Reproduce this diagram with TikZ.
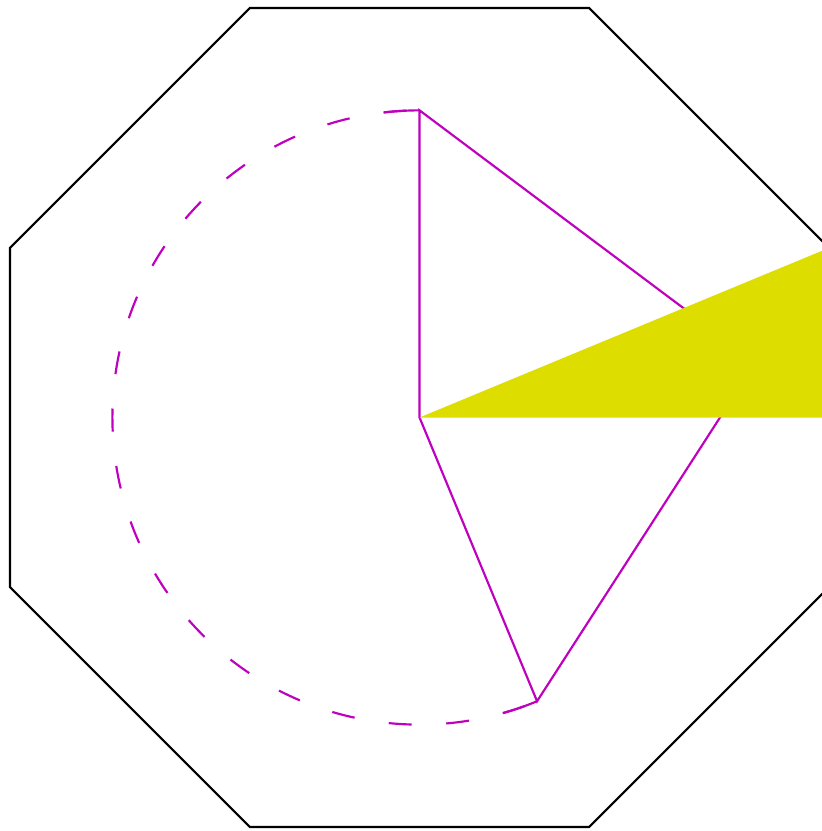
\documentclass[tikz,border=0pt]{standalone}
\definecolor{arcMagenta}{RGB}{191, 0, 191}
\definecolor{wedgeYellow}{RGB}{221, 221, 0}
\usepackage{tikz}
\usetikzlibrary{calc}

\begin{document}
\begin{tikzpicture}[
      outline/.style={draw=black, line width=0.6pt},
      chord/.style={draw=arcMagenta, line width=0.6pt},
      rim/.style={chord, dash pattern=on 6.4pt off 9.6pt, dash phase=12.4pt},
      wedge/.style={fill=wedgeYellow},
    ]
      \useasboundingbox (-4.098,-4.039) rectangle (3.931,4.078);
      \clip (-4.098,-4.039) rectangle (3.931,4.078);

      \coordinate (O) at (0,0);
      \coordinate (A) at (90:3);
      \coordinate (B) at (-67.5:3);
      \coordinate (P) at (3.283,0.540);
      \coordinate (V) at (22.5:4.3296);
      \coordinate (M) at (0:4);

      % octagon
      \draw[outline] (22.5:4.3296)
        \foreach \a in {67.5,112.5,...,337.5} { -- (\a:4.3296) } -- cycle;

      % circle part, longer dashes at both ends
      \draw[rim] (A) arc[start angle=90, end angle=292.5, radius=3];
      \draw[chord] (A) arc[start angle=90, end angle=96.7, radius=3];
      \draw[chord] (B) arc[start angle=292.5, end angle=285.8, radius=3];

      % quadrilateral
      \draw[chord] (O) -- (A) -- (P) -- (B) -- cycle;

      % wedge
      \fill[wedge] (O) -- (V) -- (M) -- cycle;
    \end{tikzpicture}
\end{document}
